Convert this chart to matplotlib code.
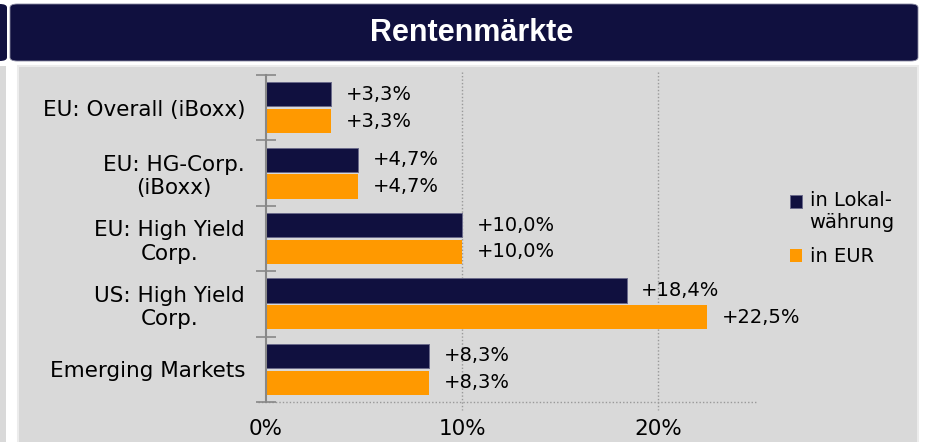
import numpy as np
import matplotlib
matplotlib.use("Agg")
import matplotlib.pyplot as plt
from matplotlib.patches import FancyBboxPatch, Rectangle
from matplotlib.legend_handler import HandlerPatch
from matplotlib.ticker import FixedLocator

###############################################################################
# Data
###############################################################################
categories = ["EU: Overall (iBoxx)", "EU: HG-Corp.\n(iBoxx)", "EU: High Yield\nCorp.",
              "US: High Yield\nCorp.", "Emerging Markets"]
lokal = [3.3, 4.7, 10.0, 18.4, 8.3]
eur = [3.3, 4.7, 10.0, 22.5, 8.3]
series_names = ["in Lokal-\nwährung", "in EUR"]
xticks = [0, 10, 20]
xticklabels = ["0%", "10%", "20%"]
title = "Rentenmärkte"
#------------------------------------------------------------------------------

navy = "#10103f"
orange = "#ff9900"
grey = "#d9d9d9"
W, H = 925, 442
fs = 14
fs_cat = 15.5

plt.rcParams['font.family'] = ['DejaVu Sans']
fig = plt.figure(figsize=(W / 100, H / 100), dpi=100)
fig.patch.set_facecolor("white")

###############################################################################
# Panel background and header
###############################################################################
def px(x0, y0, x1, y1):
    return x0 / W, 1 - y1 / H, (x1 - x0) / W, (y1 - y0) / H

bg = []
x, y, w, h = px(-20, 4, 7, 61)
bg.append(FancyBboxPatch((x, y), w, h, boxstyle="round,pad=0,rounding_size=0.008",
                         transform=fig.transFigure, fc=navy, ec="none"))
x, y, w, h = px(0, 66, 6, 442)
bg.append(Rectangle((x, y), w, h, transform=fig.transFigure, fc=grey, ec="none"))
x, y, w, h = px(10, 4, 918, 61)
bg.append(FancyBboxPatch((x, y), w, h, boxstyle="round,pad=0,rounding_size=0.008",
                         transform=fig.transFigure, fc=navy, ec="#8888a0", lw=0.6))
x, y, w, h = px(18, 66, 918, 445)
bg.append(Rectangle((x, y), w, h, transform=fig.transFigure, fc=grey, ec="#ececec", lw=1.5))
for p in bg:
    p.set_zorder(-10)
    fig.patches.append(p)

fig.text(472 / W, 1 - 33 / H, title, ha="center", va="center", color="white",
         fontsize=22, fontweight="bold", family="Liberation Sans")
#------------------------------------------------------------------------------

###############################################################################
# Bars
###############################################################################
ax = fig.add_axes([266 / W, 40 / H, 490 / W, 327 / H])
ax.set_facecolor("none")
ax.set_zorder(5)
pos = np.arange(len(categories))
off = 0.205
hbar = 0.37
b1 = ax.barh(pos - off, lokal, height=hbar, color=navy, edgecolor="#6a6a8a", lw=0.7)
b2 = ax.barh(pos + off, eur, height=hbar, color=orange, edgecolor="none")

for i in range(len(categories)):
    ax.text(lokal[i] + 0.75, pos[i] - off, "+" + ("%.1f" % lokal[i]).replace(".", ",") + "%",
            va="center", ha="left", fontsize=fs, color="black")
    ax.text(eur[i] + 0.75, pos[i] + off, "+" + ("%.1f" % eur[i]).replace(".", ",") + "%",
            va="center", ha="left", fontsize=fs, color="black")

ax.set_xlim(0, 25)
ax.set_ylim(len(categories) - 0.5, -0.5)

ax.yaxis.set_major_locator(FixedLocator(np.arange(len(categories) + 1) - 0.5))
ax.yaxis.set_minor_locator(FixedLocator(pos))
ax.set_yticklabels([""] * (len(categories) + 1))
ax.set_yticklabels(categories, minor=True, multialignment="center", fontsize=fs_cat)
ax.tick_params(axis="y", which="major", length=15, width=1.2, color="#888888", direction="inout")
ax.tick_params(axis="y", which="minor", length=0, pad=15)

ax.set_xticks(xticks)
ax.set_xticklabels(xticklabels, fontsize=fs_cat)
ax.tick_params(axis="x", length=0, pad=12)

for t in xticks[1:]:
    ax.plot([t, t], [-0.55, len(categories) - 0.38], color="#999999", lw=1.0,
            ls=(0, (1, 1.5)), clip_on=False, zorder=0)
ax.plot([-0.4, 25], [len(categories) - 0.5] * 2, color="#999999", lw=1.0,
        ls=(0, (1, 1.5)), clip_on=False, zorder=0)

for s in ["top", "right", "bottom"]:
    ax.spines[s].set_visible(False)
ax.spines["left"].set_color("#888888")
ax.spines["left"].set_linewidth(1.5)

# legend square aligned with the first line of a two-line label
def top_square(legend, orig_handle, xdescent, ydescent, width, height, fontsize):
    return Rectangle((-xdescent, -ydescent + 0.55 * fontsize), width, height)

h1, h2 = b1.patches[0], b2.patches[0]
leg = fig.legend(handles=[h1, h2], labels=series_names, loc="upper left",
                 bbox_to_anchor=(782 / W, 1 - 183 / H), frameon=False,
                 fontsize=fs, handlelength=0.62, handleheight=0.62, handletextpad=0.4,
                 labelspacing=0.8, borderaxespad=0,
                 handler_map={h1: HandlerPatch(patch_func=top_square)})
#------------------------------------------------------------------------------

plt.savefig("out.png", dpi=100)
